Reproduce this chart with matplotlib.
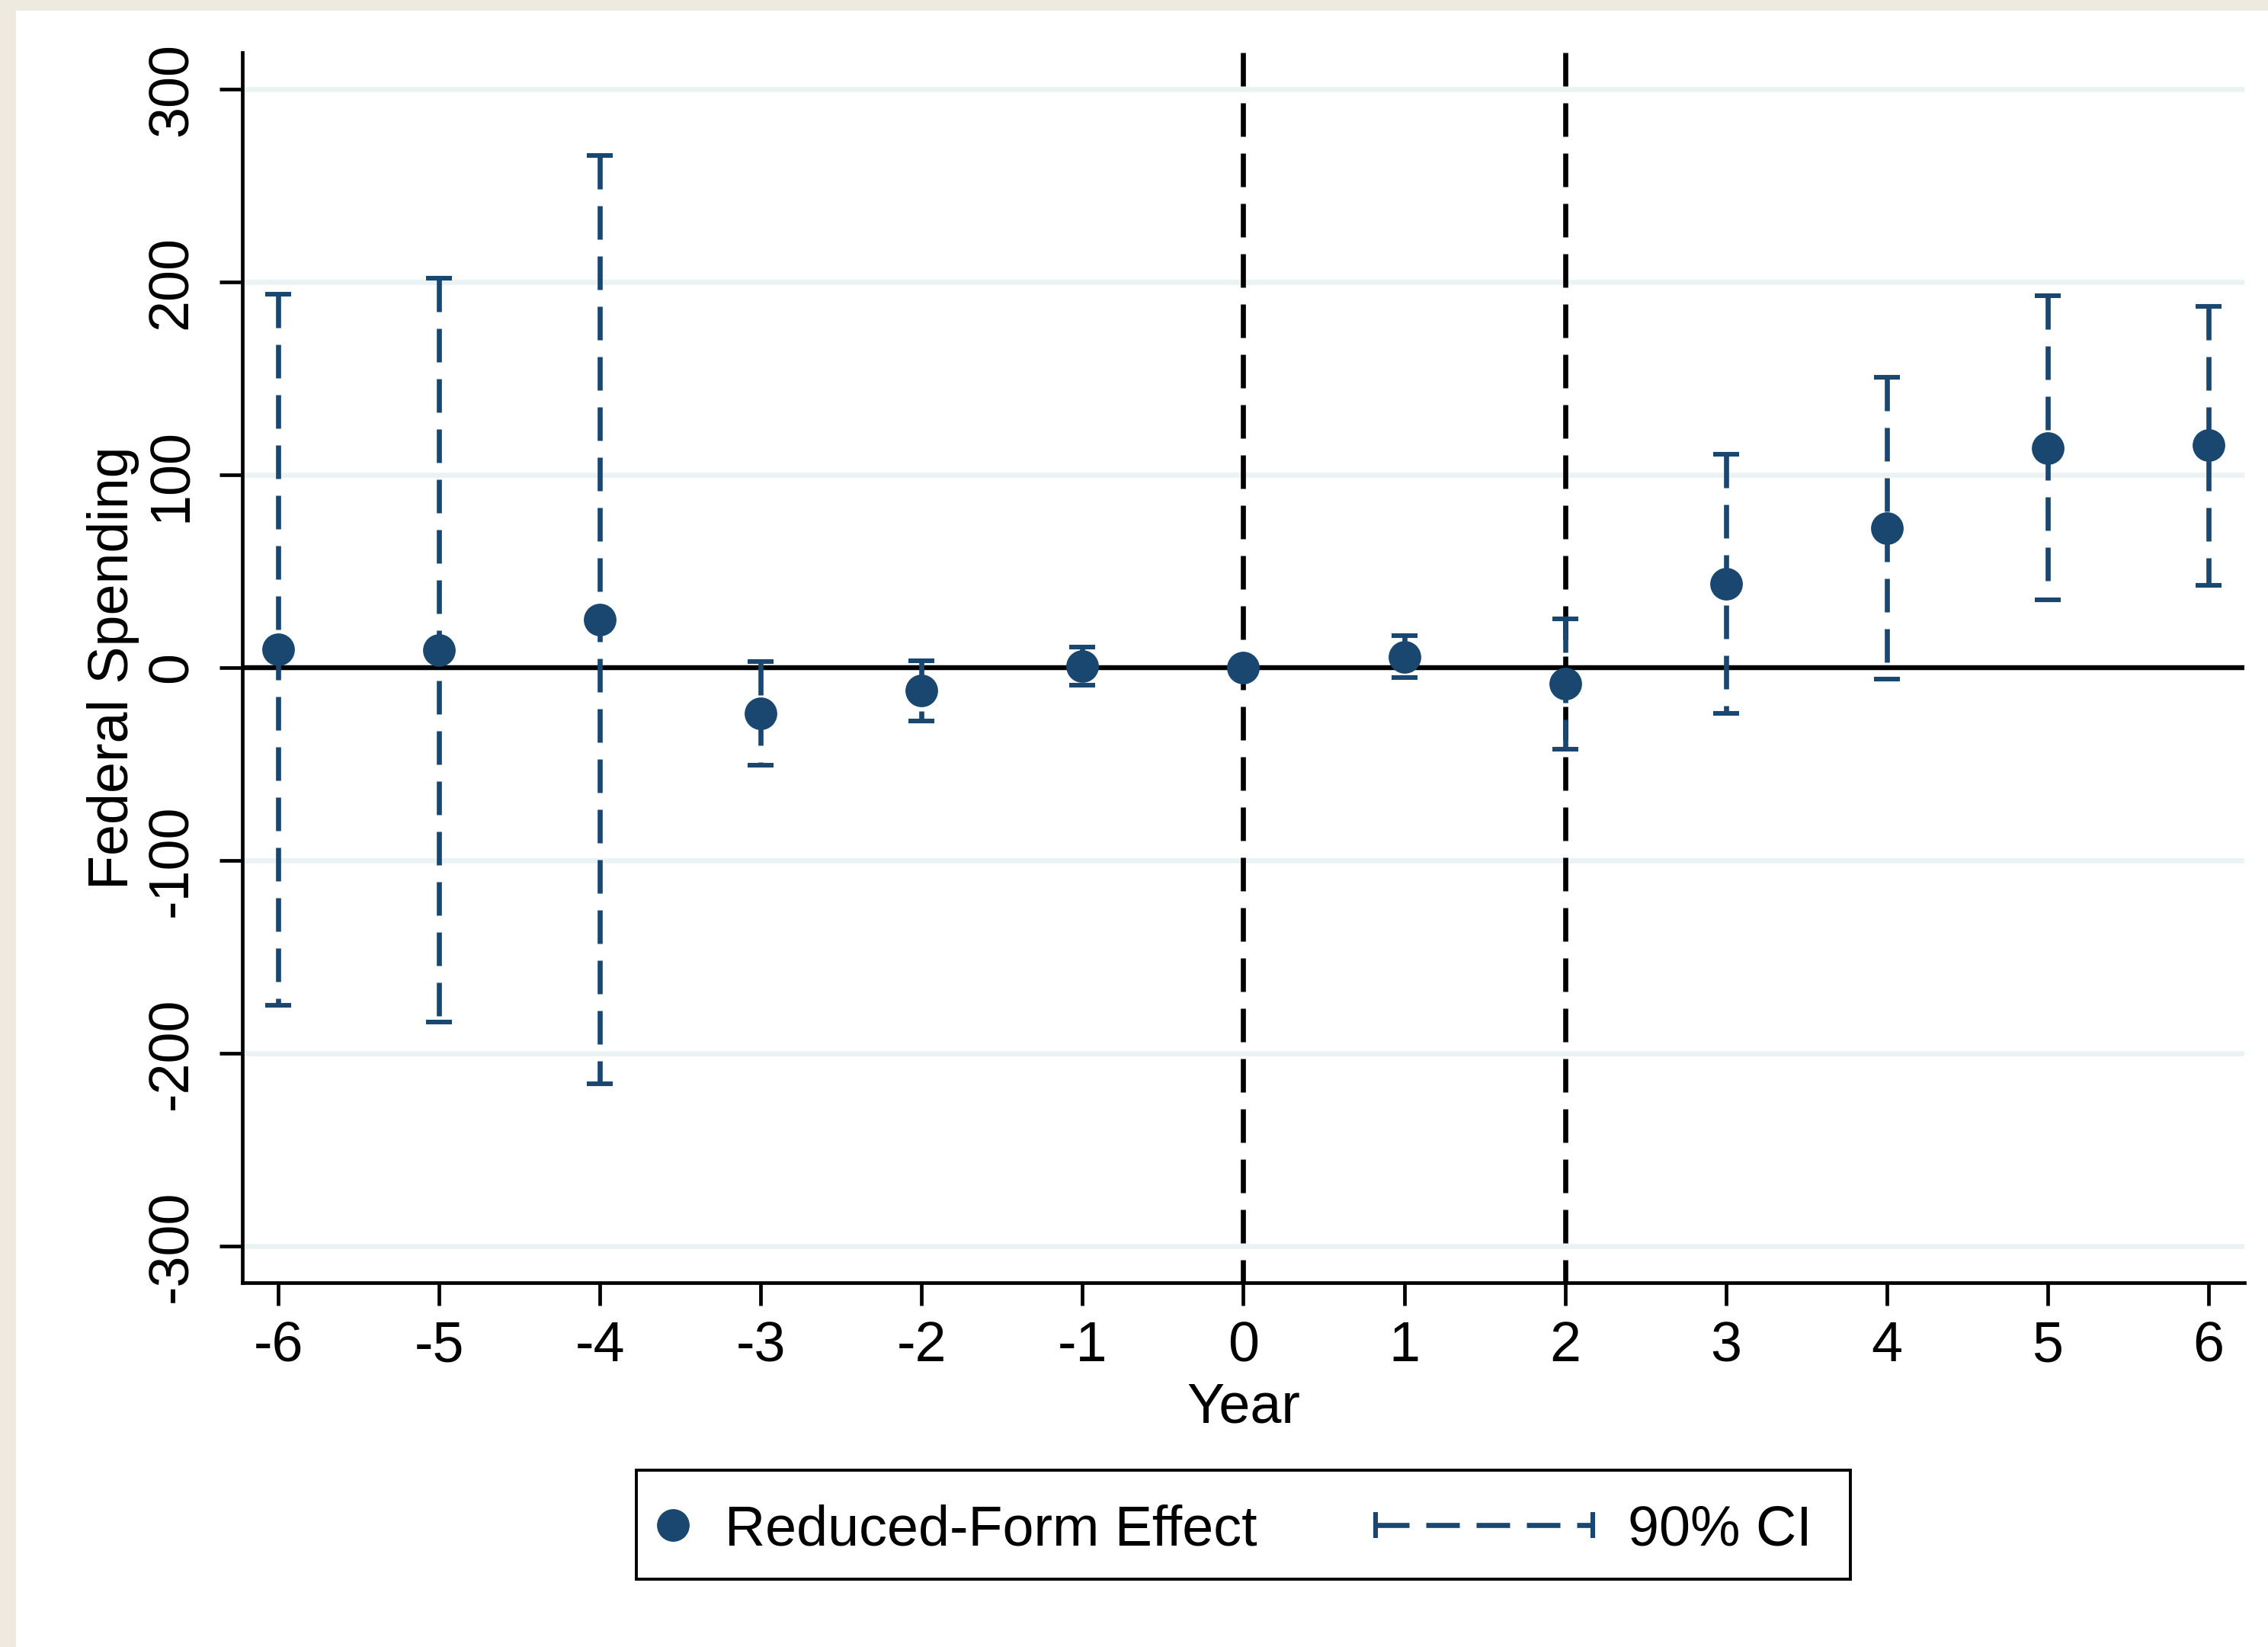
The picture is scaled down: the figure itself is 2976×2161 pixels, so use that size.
import matplotlib
matplotlib.use("Agg")
import matplotlib.pyplot as plt
from matplotlib.patches import Rectangle

# event-study estimates
years = [-6, -5, -4, -3, -2, -1, 0, 1, 2, 3, 4, 5, 6]
effect = [9.3, 9.2, 25.0, -23.8, -12.0, 0.6, 0.0, 5.6, -8.4, 43.5, 72.3, 113.8, 115.4]
ci_low = [-175.2, -183.7, -215.8, -50.7, -27.5, -8.9, 0.0, -5.3, -42.4, -23.8, -5.9, 35.2, 42.7]
ci_high = [193.7, 202.0, 265.8, 3.3, 3.7, 10.5, 0.0, 16.7, 25.4, 110.7, 150.6, 193.0, 187.5]

ref_years = [0, 2]
y_ticks = [-300, -200, -100, 0, 100, 200, 300]

navy = "#1a476f"
grid_col = "#eaf2f3"
beige = "#eeeae0"

plt.rcParams["font.family"] = ["Liberation Sans", "DejaVu Sans"]
plt.rcParams["axes.unicode_minus"] = False
FS = 26.5
LW = 2.4
DASH = (0, (6.6, 3.3))

W, H = 2976, 2161
fig = plt.figure(figsize=(W / 200, H / 200), dpi=200)
fig.patch.set_facecolor("white")

# beige frame strips (left and top)
fig.add_artist(Rectangle((0, 0), 19 / W, 1, transform=fig.transFigure,
                         color=beige, zorder=-5))
fig.add_artist(Rectangle((0, 1 - 12 / H), 1, 12 / H, transform=fig.transFigure,
                         color=beige, zorder=-5))

ax = fig.add_axes([318 / W, (H - 1683) / H, (2945 - 318) / W, (1683 - 69) / H])

# grid
ax.set_yticks(y_ticks)
ax.set_xticks(years)
ax.yaxis.grid(True, color=grid_col, lw=2.4, zorder=0)
ax.set_axisbelow(True)

# reference lines
ax.axhline(0, color="black", lw=2.3, zorder=1)
for x in ref_years:
    ax.plot([x, x], [1, 0], transform=ax.get_xaxis_transform(),
            color="black", lw=LW, ls=DASH, zorder=1.5)

# confidence intervals: dashed from top down, with caps
ax.vlines(years, ci_high, ci_low, colors=navy, linewidth=LW,
          linestyles=[DASH], zorder=2)
ax.plot(years, ci_high, ls="none", marker="_", ms=12.2, mew=2.2, color=navy, zorder=2)
ax.plot(years, ci_low, ls="none", marker="_", ms=12.2, mew=2.2, color=navy, zorder=2)

# point estimates
ax.plot(years, effect, ls="none", marker="o", ms=14.4, color=navy, mec=navy, zorder=3)

ax.set_xlim(-6.225, 6.225)
ax.set_ylim(-319, 319)

for side in ["top", "right"]:
    ax.spines[side].set_visible(False)
for side in ["left", "bottom"]:
    ax.spines[side].set_linewidth(1.7)

ax.tick_params(axis="both", length=10.8, width=1.7, labelsize=FS, color="black")
ax.tick_params(axis="x", pad=7)
ax.tick_params(axis="y", pad=10, labelrotation=90)
for lab in ax.get_yticklabels():
    lab.set_va("center")

ax.set_xlabel("Year", fontsize=FS, labelpad=4)
ax.set_ylabel("Federal Spending", fontsize=FS, labelpad=3)

# legend box drawn by hand to match the original spacing
lax = fig.add_axes([835 / W, (H - 2072) / H, (2428 - 835) / W, (2072 - 1929) / H])
lax.set_xlim(0, 1)
lax.set_ylim(0, 1)
lax.set_xticks([])
lax.set_yticks([])
for s in lax.spines.values():
    s.set_linewidth(1.4)
    s.set_color("black")

lax.plot([0.030], [0.5], ls="none", marker="o", ms=14.4, color=navy)
lax.text(0.0728, 0.5, "Reduced-Form Effect", fontsize=FS, va="center_baseline", ha="left")
lax.plot([0.609, 0.788], [0.5, 0.5], color=navy, lw=LW, ls=DASH)
lax.plot([0.609, 0.788], [0.5, 0.5], ls="none", marker="|", ms=12.2, mew=2.2, color=navy)
lax.text(0.8167, 0.5, "90% CI", fontsize=FS, va="center_baseline", ha="left")

fig.savefig("out.png", dpi=200, facecolor="white")
